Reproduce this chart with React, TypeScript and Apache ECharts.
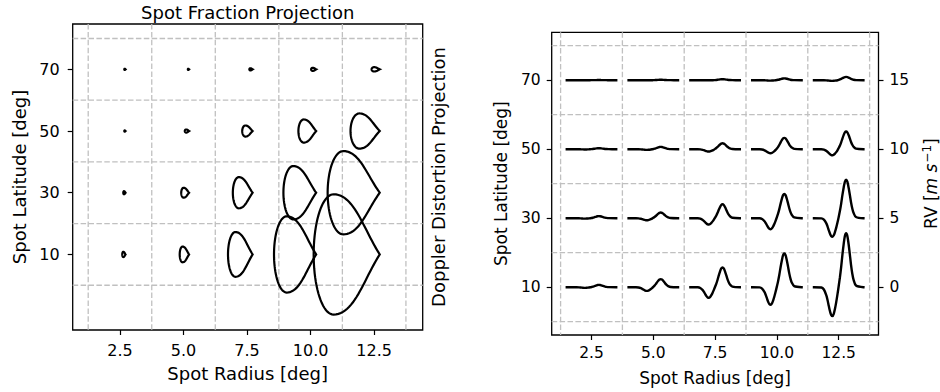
import React, { useEffect, useRef } from "react";
import * as echarts from "echarts";

const FONT = "DejaVu Sans";

const radii = [2.5, 5, 7.5, 10, 12.5];
const latitudes = [10, 30, 50, 70];
const rvRowOffset = [0, 5, 10, 15];

// Left panel: projected spot outline size (width in radius units, height in latitude deg)
const spotWidth = [
  [0.13, 0.37, 0.97, 1.66, 2.6],
  [0.09, 0.31, 0.78, 1.29, 2.05],
  [0.05, 0.17, 0.41, 0.7, 1.15],
  [0.05, 0.05, 0.13, 0.2, 0.32],
];
const spotHeight = [
  [1.7, 5.1, 14.5, 24.7, 39.0],
  [1.0, 3.2, 10.1, 17.3, 27.0],
  [0.4, 1.0, 3.6, 7.5, 11.4],
  [0.4, 0.4, 0.7, 1.0, 1.4],
];
const tipOffset = 0.22;
const topFraction = 0.3;

// Right panel: RV distortion peak and dip amplitudes [m/s]
const rvPeak = [
  [0.17, 0.58, 1.43, 2.44, 3.91],
  [0.15, 0.41, 1.01, 1.76, 2.78],
  [0.07, 0.17, 0.43, 0.82, 1.28],
  [0.01, 0.03, 0.07, 0.13, 0.24],
];
const rvDip = [
  [-0.05, -0.27, -0.77, -1.28, -2.1],
  [-0.03, -0.15, -0.46, -0.8, -1.35],
  [-0.02, -0.05, -0.17, -0.29, -0.44],
  [0, -0.01, -0.01, -0.03, -0.05],
];
// waveform, normalised lobes
const phase = [-1.0, -0.7, -0.6, -0.5, -0.45, -0.4, -0.35, -0.3, -0.25, -0.2, -0.15, -0.1, -0.05, 0, 0.05, 0.1, 0.15, 0.2, 0.25, 0.3, 0.35, 0.4, 0.45, 0.5, 0.55, 0.6, 0.7, 1.0];
const dipProfile = [0, 0.01, 0.08, 0.28, 0.45, 0.65, 0.84, 0.97, 1, 0.92, 0.76, 0.57, 0.38, 0.22, 0.12, 0.06, 0.02, 0.01, 0, 0, 0, 0, 0, 0, 0, 0, 0, 0];
const peakProfile = [0, 0, 0, 0, 0, 0, 0, 0, 0, 0, 0.01, 0.03, 0.07, 0.14, 0.25, 0.41, 0.61, 0.8, 0.95, 1.0, 0.95, 0.8, 0.61, 0.41, 0.25, 0.14, 0.03, 0];

const xGridLines = [1.25, 3.75, 6.25, 8.75, 11.25, 13.75];
const yGridLines = [0, 20, 40, 60, 80];
const radiusTicks = [2.5, 5, 7.5, 10, 12.5];
const latitudeTicks = [10, 30, 50, 70];
const rvTicks = [0, 5, 10, 15];

const GRID_COLOR = "#c0c0c0";

function gridLineSeries(xIdx: number, yIdx: number) {
  const style = { stroke: GRID_COLOR, lineWidth: 1.3, lineDash: [5.5, 2.4] };
  const vertical = {
    type: "custom",
    xAxisIndex: xIdx,
    yAxisIndex: yIdx,
    silent: true,
    z: 1,
    data: xGridLines.map((v) => [v, latitudeTicks[0]]),
    encode: { x: 0, y: 1 },
    renderItem: (params: any, api: any) => {
      const cs = params.coordSys;
      const p = api.coord([api.value(0), api.value(1)]);
      return { type: "line", shape: { x1: p[0], y1: cs.y, x2: p[0], y2: cs.y + cs.height }, style };
    },
  };
  const horizontal = {
    type: "custom",
    xAxisIndex: xIdx,
    yAxisIndex: yIdx,
    silent: true,
    z: 1,
    data: yGridLines.map((v) => [radiusTicks[0], v]),
    encode: { x: 0, y: 1 },
    renderItem: (params: any, api: any) => {
      const cs = params.coordSys;
      const p = api.coord([api.value(0), api.value(1)]);
      return { type: "line", shape: { x1: cs.x, y1: p[1], x2: cs.x + cs.width, y2: p[1] }, style };
    },
  };
  return [vertical, horizontal];
}

const tickStyle = (values: number[] | null) =>
  values
    ? { show: true, inside: false, length: 5, lineStyle: { color: "#000", width: 1.2 }, customValues: values }
    : { show: false };

function axisBase(nameSize: number) {
  return {
    type: "value",
    axisLine: { show: false, onZero: false },
    splitLine: { show: false },
    nameTextStyle: { color: "#000", fontFamily: FONT, fontSize: nameSize },
    nameLocation: "middle",
  };
}

function bezier(p0: number[], p1: number[], p2: number[], p3: number[], t: number) {
  const u = 1 - t;
  return [
    u * u * u * p0[0] + 3 * u * u * t * p1[0] + 3 * u * t * t * p2[0] + t * t * t * p3[0],
    u * u * u * p0[1] + 3 * u * u * t * p1[1] + 3 * u * t * t * p2[1] + t * t * t * p3[1],
  ];
}

export default function App() {
  const ref = useRef<HTMLDivElement>(null);

  useEffect(() => {
    document.body.style.margin = "0";
    if (!ref.current) return;
    const chart = echarts.init(ref.current, null, { renderer: "svg" });

    const spotData: number[][] = [];
    latitudes.forEach((lat, i) => {
      radii.forEach((r, j) => {
        spotData.push([r, lat, spotWidth[i][j], spotHeight[i][j]]);
      });
    });

    const spotSeries = {
      type: "custom",
      xAxisIndex: 0,
      yAxisIndex: 0,
      z: 5,
      silent: true,
      data: spotData,
      encode: { x: 0, y: 1 },
      renderItem: (params: any, api: any) => {
        const r = api.value(0);
        const lat = api.value(1);
        const w = api.value(2);
        const h = api.value(3);
        const tip = api.coord([r + tipOffset, lat]);
        const sz = api.size([w, h], [r, lat]);
        const wpx = sz[0];
        const hpx = sz[1];
        const a = topFraction * wpx;
        const b = hpx / 2;
        const cx = tip[0] - wpx + a;
        const cy = tip[1];
        const d = tip[0] - cx;
        const s = (1.2 * b) / Math.max(d, 0.001);
        const nrm = Math.sqrt(1 + s * s);
        const chord = Math.sqrt(d * d + b * b);
        const L = 0.4 * chord;
        const pts: number[][] = [];
        const nb = 24;
        const bottom = [cx, cy + b];
        const topP = [cx, cy - b];
        const tipP = [tip[0], tip[1]];
        for (let k = 0; k <= nb; k++) {
          const t = k / nb;
          pts.push(bezier(tipP, [tipP[0] - L / nrm, tipP[1] + (L * s) / nrm], [cx + 0.45 * d, cy + b], bottom, t));
        }
        const ne = 40;
        for (let k = 1; k < ne; k++) {
          const th = -Math.PI / 2 - (Math.PI * k) / ne;
          pts.push([cx + a * Math.cos(th), cy - b * Math.sin(th)]);
        }
        for (let k = 0; k < nb; k++) {
          const t = k / nb;
          pts.push(bezier(topP, [cx + 0.45 * d, cy - b], [tipP[0] - L / nrm, tipP[1] - (L * s) / nrm], tipP, t));
        }
        return {
          type: "polygon",
          shape: { points: pts },
          style: { fill: "none", stroke: "#000", lineWidth: 2.2, lineJoin: "miter" },
        };
      },
    };

    const rvSeries: any[] = [];
    latitudes.forEach((lat, i) => {
      radii.forEach((r, j) => {
        rvSeries.push({
          type: "line",
          xAxisIndex: 1,
          yAxisIndex: 3,
          z: 5,
          silent: true,
          showSymbol: false,
          smooth: 0.3,
          lineStyle: { color: "#000", width: 2.4, cap: "square" },
          data: phase.map((p, k) => [
            r + p,
            rvRowOffset[i] + rvPeak[i][j] * peakProfile[k] + rvDip[i][j] * dipProfile[k],
          ]),
        });
      });
    });

    const option: any = {
      animation: false,
      backgroundColor: "#fff",
      textStyle: { fontFamily: FONT },
      graphic: [
        {
          type: "text",
          x: 247.7,
          y: 12,
          style: {
            text: "Spot Fraction Projection",
            fontFamily: FONT,
            fontSize: 18,
            fill: "#000",
            align: "center",
            verticalAlign: "middle",
          },
        },
      ],
      grid: [
        { left: 72.7, top: 24, width: 350, height: 306, show: true, borderColor: "#000", borderWidth: 1.3, backgroundColor: "transparent" },
        { left: 551.7, top: 32.3, width: 330, height: 302.7, show: true, borderColor: "#000", borderWidth: 1.3, backgroundColor: "transparent" },
      ],
      xAxis: [
        {
          ...axisBase(18),
          gridIndex: 0,
          min: 0.64,
          max: 14.41,
          axisTick: tickStyle(radiusTicks),
          axisLabel: { color: "#000", fontFamily: FONT, fontSize: 16, margin: 12, customValues: radiusTicks, formatter: (v: number) => v.toFixed(1) },
          name: "Spot Radius [deg]",
          nameGap: 34,
        },
        {
          ...axisBase(17),
          gridIndex: 1,
          min: 0.89,
          max: 14.11,
          axisTick: tickStyle(radiusTicks),
          axisLabel: { color: "#000", fontFamily: FONT, fontSize: 15.5, margin: 10, customValues: radiusTicks, formatter: (v: number) => v.toFixed(1) },
          name: "Spot Radius [deg]",
          nameGap: 34,
        },
      ],
      yAxis: [
        {
          ...axisBase(18),
          gridIndex: 0,
          min: -14.5,
          max: 84.7,
          axisTick: tickStyle(latitudeTicks),
          axisLabel: { color: "#000", fontFamily: FONT, fontSize: 16, margin: 13, customValues: latitudeTicks },
          name: "Spot Latitude [deg]",
          nameRotate: 90,
          nameGap: 44,
        },
        {
          ...axisBase(18),
          gridIndex: 0,
          position: "right",
          min: -14.5,
          max: 84.7,
          axisTick: tickStyle(null),
          axisLabel: { show: false },
          name: "Doppler Distortion Projection",
          nameRotate: 90,
          nameGap: 7,
        },
        {
          ...axisBase(17),
          gridIndex: 1,
          min: -3.86,
          max: 83.88,
          axisTick: tickStyle(latitudeTicks),
          axisLabel: { color: "#000", fontFamily: FONT, fontSize: 15.5, margin: 11, customValues: latitudeTicks },
          name: "Spot Latitude [deg]",
          nameRotate: 90,
          nameGap: 42,
        },
        {
          ...axisBase(17),
          gridIndex: 1,
          position: "right",
          min: -3.465,
          max: 18.47,
          axisTick: tickStyle(rvTicks),
          axisLabel: { color: "#000", fontFamily: FONT, fontSize: 15.5, margin: 11, customValues: rvTicks },
          name: "{n|RV [}{i|m s}{sup|−1}{n|]}",
          nameRotate: 90,
          nameGap: 42,
          nameTextStyle: {
            color: "#000",
            fontFamily: FONT,
            fontSize: 17,
            rich: {
              n: { fontFamily: FONT, fontSize: 17, color: "#000" },
              i: { fontFamily: FONT, fontSize: 17, fontStyle: "italic", color: "#000" },
              sup: { fontFamily: FONT, fontSize: 12, color: "#000", verticalAlign: "top", padding: [0, 0, 8, 1] },
            },
          },
        },
      ],
      series: [...gridLineSeries(0, 0), ...gridLineSeries(1, 2), spotSeries, ...rvSeries],
    };

    chart.setOption(option);
    return () => chart.dispose();
  }, []);

  return <div ref={ref} style={{ width: 940, height: 392 }} />;
}
